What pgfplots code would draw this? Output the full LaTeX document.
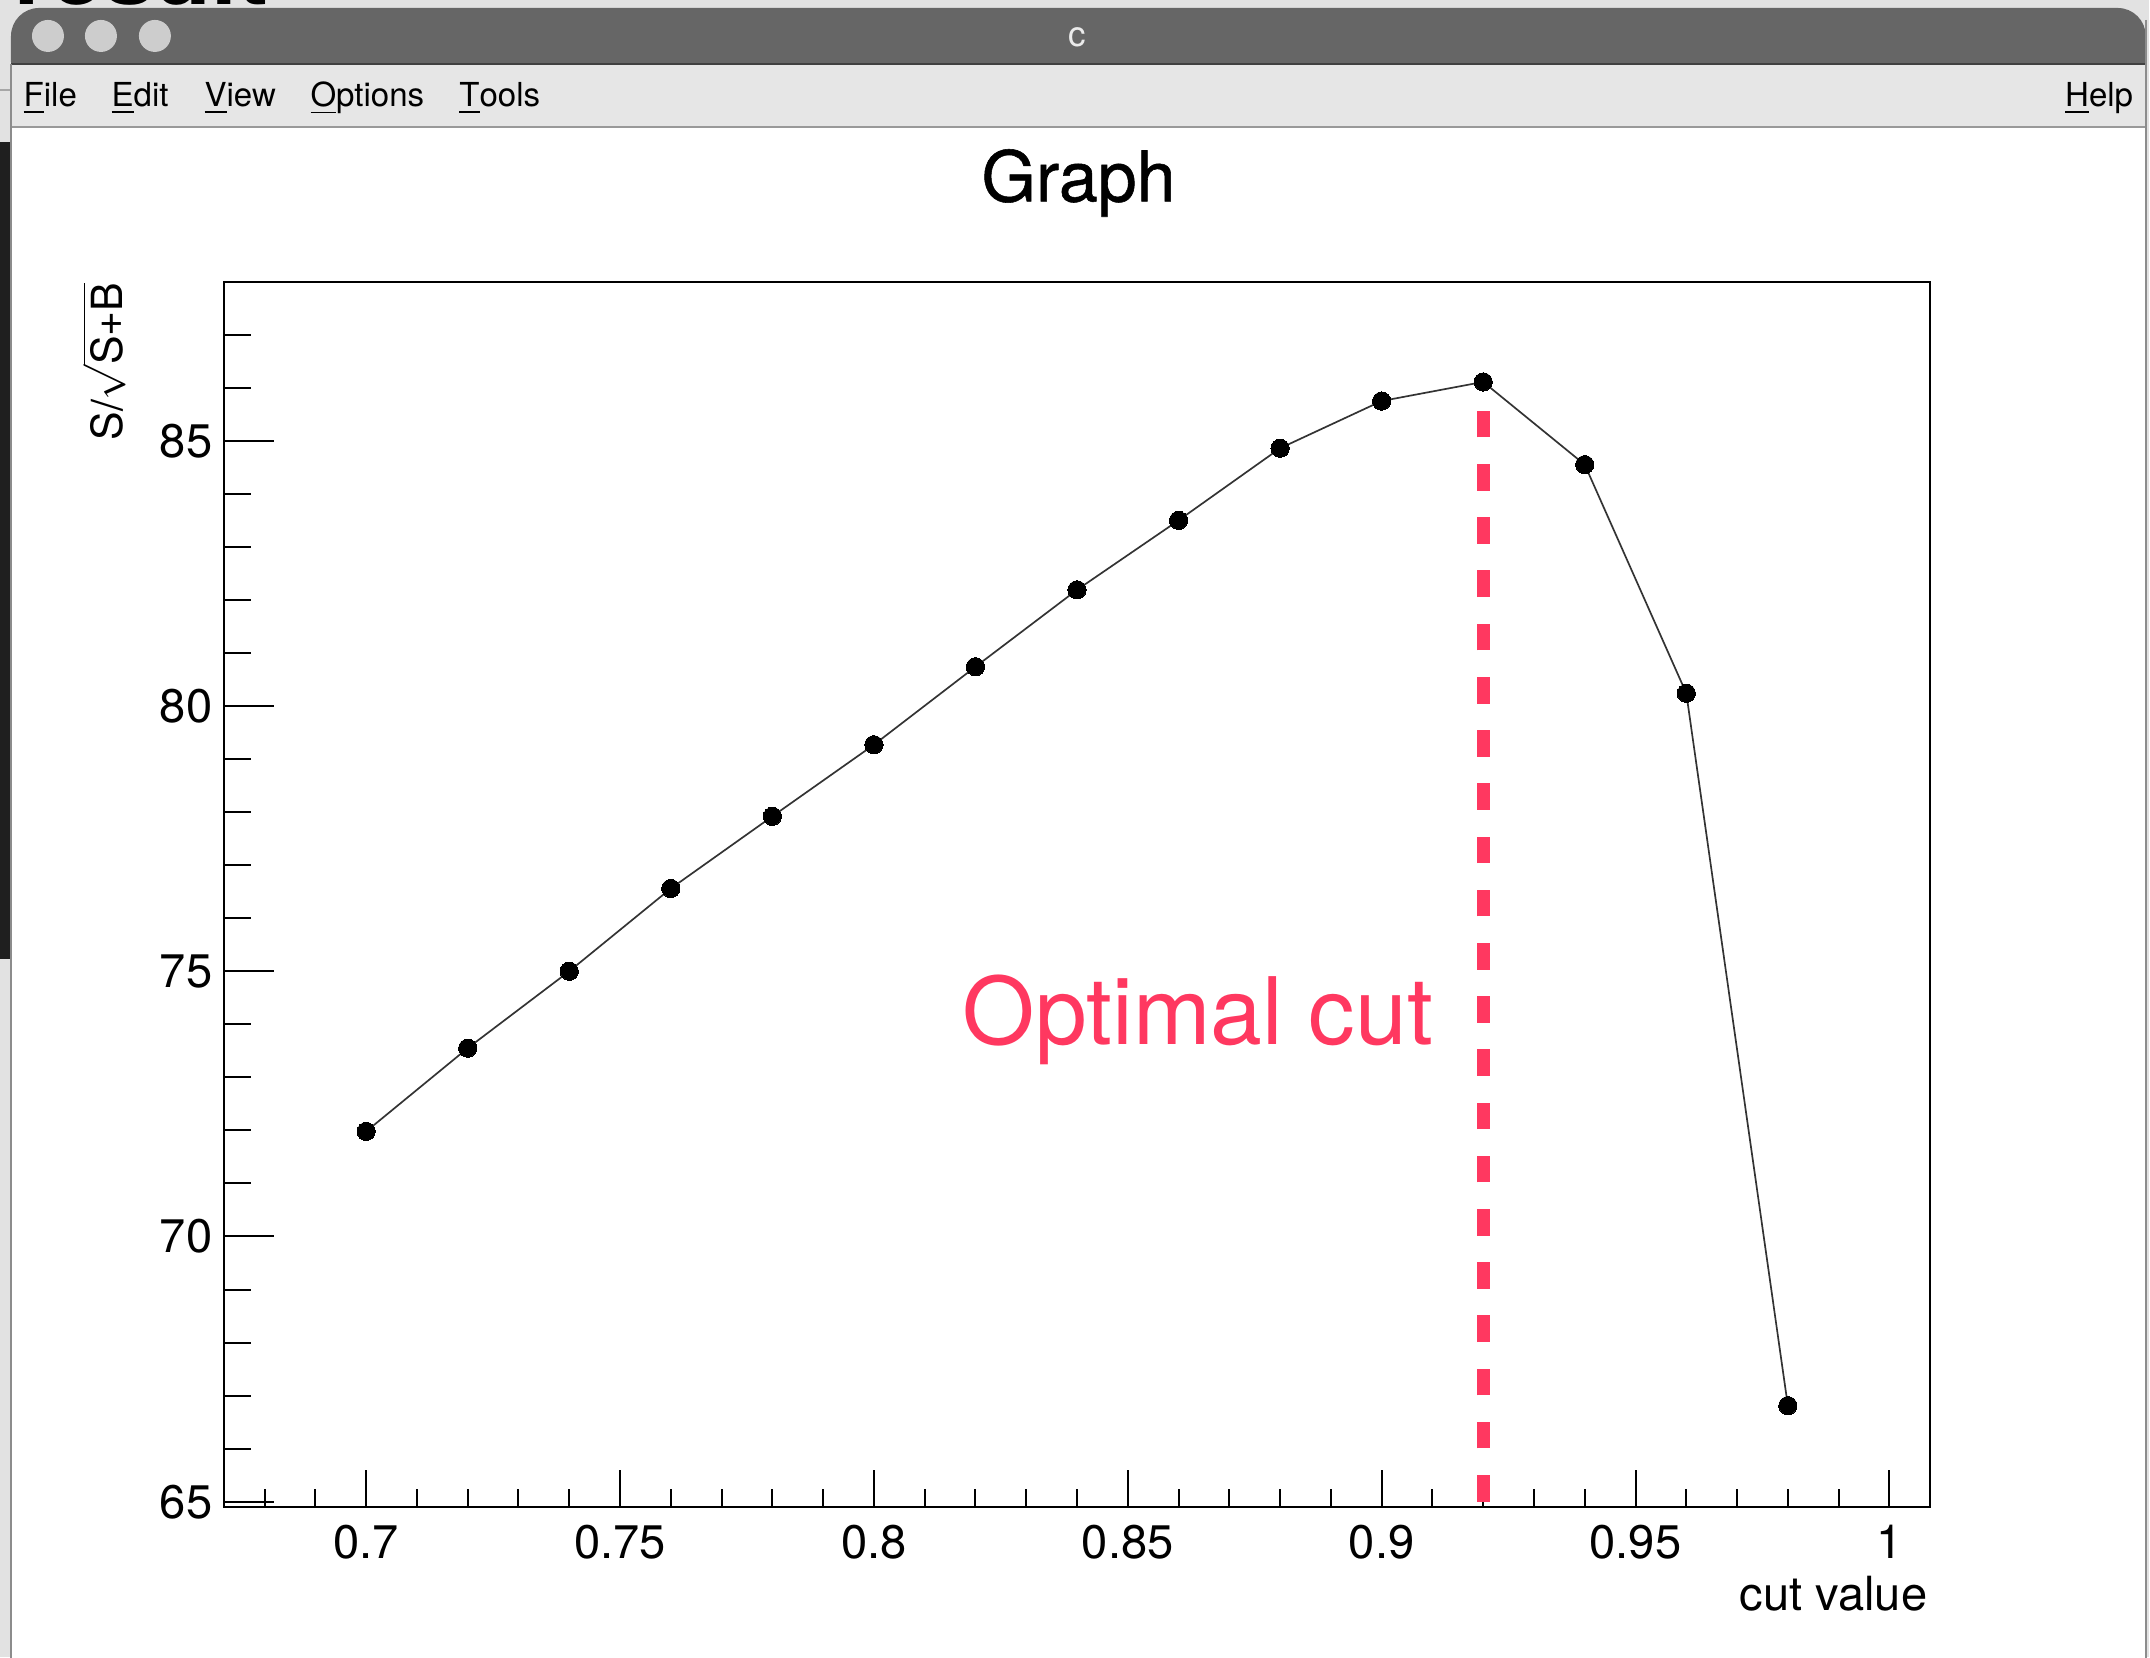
\documentclass[border=0pt]{standalone}
\usepackage{fontspec}
\setmainfont{TeX Gyre Heros}
\usepackage{pgfplots}
\pgfplotsset{compat=1.18}

\definecolor{cutred}{RGB}{255,56,96}
\definecolor{titlebar}{RGB}{102,102,102}
\definecolor{menubg}{RGB}{230,230,230}
\definecolor{desk}{RGB}{226,226,226}
\definecolor{lamp}{RGB}{205,205,205}

\newcommand\fsz[1]{\fontsize{#1}{#1}\selectfont}

% significance scan: cut value vs S/sqrt(S+B)
\pgfplotstableread{
x     y
0.70  71.98
0.72  73.55
0.74  75.00
0.76  76.56
0.78  77.92
0.80  79.27
0.82  80.74
0.84  82.19
0.86  83.50
0.88  84.86
0.90  85.75
0.92  86.11
0.94  84.55
0.96  80.24
0.98  66.81
}\scan

\begin{document}
\begin{tikzpicture}
\path[use as bounding box] (0,0) rectangle (21.5,16.58);

% window frame, drawn in pixel units from the top-left corner
\begin{scope}[x=0.01cm,y=-0.01cm,shift={(0,16.58cm)}]
  \fill[desk] (0,0) rectangle (2150,1658);
  \begin{scope}
    \clip (0,0) rectangle (2150,8);
    \node[anchor=base west, inner sep=0, font=\fsz{26.5pt}\bfseries] at (14,5) {result};
  \end{scope}
  \draw[black!35, line width=0.5pt] (0,90) -- (11,90);
  \fill[black!88] (0,142) rectangle (11,960);
  % title bar
  \fill[titlebar, rounded corners=8] (11,8) rectangle (2147,90);
  \draw[black!75, line width=0.6pt] (11,64) -- (2147,64);
  \fill[lamp] (48,36) circle (16);
  \fill[lamp] (101,36) circle (16);
  \fill[lamp] (155,36) circle (16);
  \node[anchor=base, inner sep=0, text=black!8, font=\fsz{10pt}] at (1078,47) {c};
  % menu bar
  \fill[menubg] (11,65) rectangle (2147,127);
  \draw[black!40, line width=0.6pt] (11,127) -- (2147,127);
  \begin{scope}[every node/.style={anchor=base west, inner sep=0, font=\fsz{9.4pt}}]
    \node at (23,107) {\underline{F}ile};
    \node at (111,107) {\underline{E}dit};
    \node at (204,107) {\underline{V}iew};
    \node at (310,107) {\underline{O}ptions};
    \node at (459,107) {\underline{T}ools};
    \node[anchor=base east] at (2135,107) {\underline{H}elp};
  \end{scope}
  % canvas
  \fill[white] (12,128) rectangle (2146,1670);
  \draw[black!45, line width=0.6pt] (11,64) -- (11,1670);
  \draw[black!45, line width=0.6pt] (2147,20) -- (2147,1670);
\end{scope}

% frame, x ticks and the curve
\begin{axis}[
  at={(2.24cm,1.51cm)}, anchor=south west,
  scale only axis, width=17.06cm, height=12.253cm,
  xmin=0.672, xmax=1.008, ymin=64.9, ymax=88.0,
  axis line style={line width=0.57pt},
  tick style={black, line width=0.57pt},
  tick align=inside, xtick pos=bottom,
  major tick length=0.37cm, minor tick length=0.18cm,
  xtick={0.7,0.75,0.8,0.85,0.9,0.95,1},
  xticklabels={0.7,0.75,0.8,0.85,0.9,0.95,1},
  minor xtick={0.68,0.69,0.70,0.71,0.72,0.73,0.74,0.75,0.76,0.77,0.78,0.79,0.80,0.81,0.82,0.83,0.84,0.85,0.86,0.87,0.88,0.89,0.90,0.91,0.92,0.93,0.94,0.95,0.96,0.97,0.98,0.99,1.00},
  ytick=\empty, minor ytick=\empty,
  xticklabel style={anchor=base, inner sep=0pt, yshift=-0.52cm, font=\fsz{13.4pt}},
  /pgf/number format/assume math mode=true,
]
  \addplot[cutred, line width=3.7pt, dash pattern=on 7.57pt off 7.57pt, forget plot]
    coordinates {(0.92,65) (0.92,86.11)};
  \addplot[black!80, line width=0.48pt, mark=*, mark size=2.6pt,
    mark options={fill=black, draw=black, line width=0pt}]
    table[x=x, y=y] {\scan};
\end{axis}

% y ticks with their own lengths
\begin{axis}[
  at={(2.24cm,1.51cm)}, anchor=south west,
  scale only axis, width=17.06cm, height=12.253cm,
  xmin=0.672, xmax=1.008, ymin=64.9, ymax=88.0,
  hide x axis,
  axis line style={line width=0.57pt},
  tick style={black, line width=0.57pt},
  tick align=inside, ytick pos=left,
  major tick length=0.50cm, minor tick length=0.27cm,
  ytick={65,70,75,80,85},
  minor ytick={65,66,...,88},
  yticklabel style={anchor=east, inner sep=0pt, xshift=-0.11cm, font=\fsz{13.4pt}},
  /pgf/number format/assume math mode=true,
]
\end{axis}

\node[anchor=base, inner sep=0, font=\fsz{19.9pt}\addfontfeature{FakeBold=0.8}] at (10.785,14.565) {Graph};
\node[rotate=90, anchor=base east, inner sep=0, font=\fsz{12.2pt}] at (1.22,13.76) {S/$\sqrt{\mbox{S+B}}$};
\node[anchor=base east, inner sep=0, font=\fsz{13.4pt}] at (19.28,0.47) {cut value};
\node[anchor=base west, inner sep=0, text=cutred, font=\fsz{26.5pt}] at (9.62,6.13) {Optimal cut};
\end{tikzpicture}
\end{document}
